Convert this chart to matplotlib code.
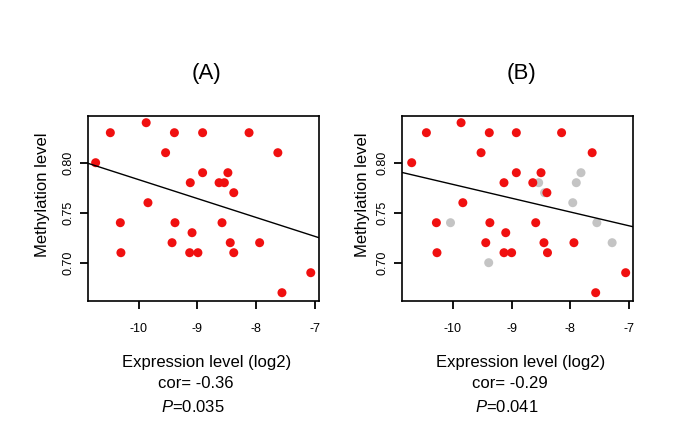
import numpy as np
import matplotlib
matplotlib.use("Agg")
import matplotlib.pyplot as plt

plt.rcParams['font.family'] = ['Liberation Sans', 'DejaVu Sans']
plt.rcParams['mathtext.fontset'] = 'custom'
plt.rcParams['mathtext.rm'] = 'Liberation Sans'
plt.rcParams['mathtext.it'] = 'Liberation Sans:italic'

# Panel A data (all red)
a_x = [-10.73, -10.48, -9.87, -9.39, -8.91, -8.12, -9.54, -7.63, -8.91, -8.48,
       -9.12, -8.63, -8.54, -8.38, -9.84, -10.31, -9.38, -8.58, -9.09, -9.43,
       -8.44, -7.94, -10.30, -9.13, -8.99, -8.38, -7.07, -7.56]
a_y = [0.80, 0.83, 0.84, 0.83, 0.83, 0.83, 0.81, 0.81, 0.79, 0.79,
       0.78, 0.78, 0.78, 0.77, 0.76, 0.74, 0.74, 0.74, 0.73, 0.72,
       0.72, 0.72, 0.71, 0.71, 0.71, 0.71, 0.69, 0.67]

# Panel B data: red points
b_red_x = [-10.70, -10.45, -9.86, -9.38, -8.92, -8.15, -9.52, -7.63, -8.92, -8.50,
           -9.13, -8.64, -8.40, -9.83, -10.28, -9.37, -8.59, -9.10, -9.44, -8.45,
           -7.94, -10.27, -9.13, -9.00, -8.39, -7.06, -7.57]
b_red_y = [0.80, 0.83, 0.84, 0.83, 0.83, 0.83, 0.81, 0.81, 0.79, 0.79,
           0.78, 0.78, 0.77, 0.76, 0.74, 0.74, 0.74, 0.73, 0.72, 0.72,
           0.72, 0.71, 0.71, 0.71, 0.71, 0.69, 0.67]
# Panel B data: gray points
b_gray_x = [-10.04, -9.39, -8.54, -8.44, -7.82, -7.90, -7.96, -7.55, -7.29]
b_gray_y = [0.74, 0.70, 0.78, 0.77, 0.79, 0.78, 0.76, 0.74, 0.72]

# Regression line coefficients (intercept, slope)
fit_a = (0.5938, -0.01893)
fit_b = (0.6402, -0.01381)

titles = ["(A)", "(B)"]
cors = ["cor= -0.36", "cor= -0.29"]
pvals = ["0.035", "0.041"]
xticks = [-10, -9, -8, -7]
yticks = [0.70, 0.75, 0.80]
xlim = (-10.86, -6.93)
ylim = (0.6617, 0.8467)

fig = plt.figure(figsize=(6.85, 4.25), dpi=100)
lefts = [88 / 685, 402.3 / 685]
bottom = 1 - 301 / 425
height = 185 / 425
width = 231 / 685
ylab_x = [-0.166, -0.141]

datasets = [
    (a_x, a_y, [], [], fit_a),
    (b_red_x, b_red_y, b_gray_x, b_gray_y, fit_b),
]

for i, (rx, ry, gx, gy, fit) in enumerate(datasets):
    ax = fig.add_axes([lefts[i], bottom, width, height])
    if gx:
        ax.scatter(gx, gy, s=42, color='#c4c4c4', edgecolors='none', zorder=2)
    ax.scatter(rx, ry, s=42, color='#f01010', edgecolors='none', zorder=3)
    xl = np.array(xlim)
    ax.plot(xl, fit[0] + fit[1] * xl, color='black', lw=1.0, zorder=4)
    ax.set_xlim(*xlim)
    ax.set_ylim(*ylim)
    ax.set_xticks(xticks)
    ax.set_xticklabels([str(t) for t in xticks])
    ax.set_yticks(yticks)
    ax.set_yticklabels(["%.2f" % t for t in yticks], rotation=90, va='center')
    ax.tick_params(direction='out', length=5.5, width=1.3, labelsize=9)
    ax.tick_params(axis='x', pad=10.5)
    ax.tick_params(axis='y', pad=4.5)
    for sp in ax.spines.values():
        sp.set_linewidth(1.2)
    ax.set_ylabel("Methylation level", fontsize=12)
    ax.yaxis.set_label_coords(ylab_x[i], 0.573)
    cx = lefts[i] + width / 2
    fig.text(cx + 0.005, 1 - 73 / 425, titles[i], ha='center', va='center', fontsize=16)
    fig.text(cx + 0.004, 1 - 362 / 425, "Expression level (log2)", ha='center', va='center', fontsize=12)
    fig.text(cx - 0.012, 1 - 383 / 425, cors[i], ha='center', va='center', fontsize=12)
    fig.text(cx - 0.016, 1 - 407 / 425, r"$\it{P}$=" + pvals[i], ha='center', va='center', fontsize=12)

fig.savefig("out.png", dpi=100)
